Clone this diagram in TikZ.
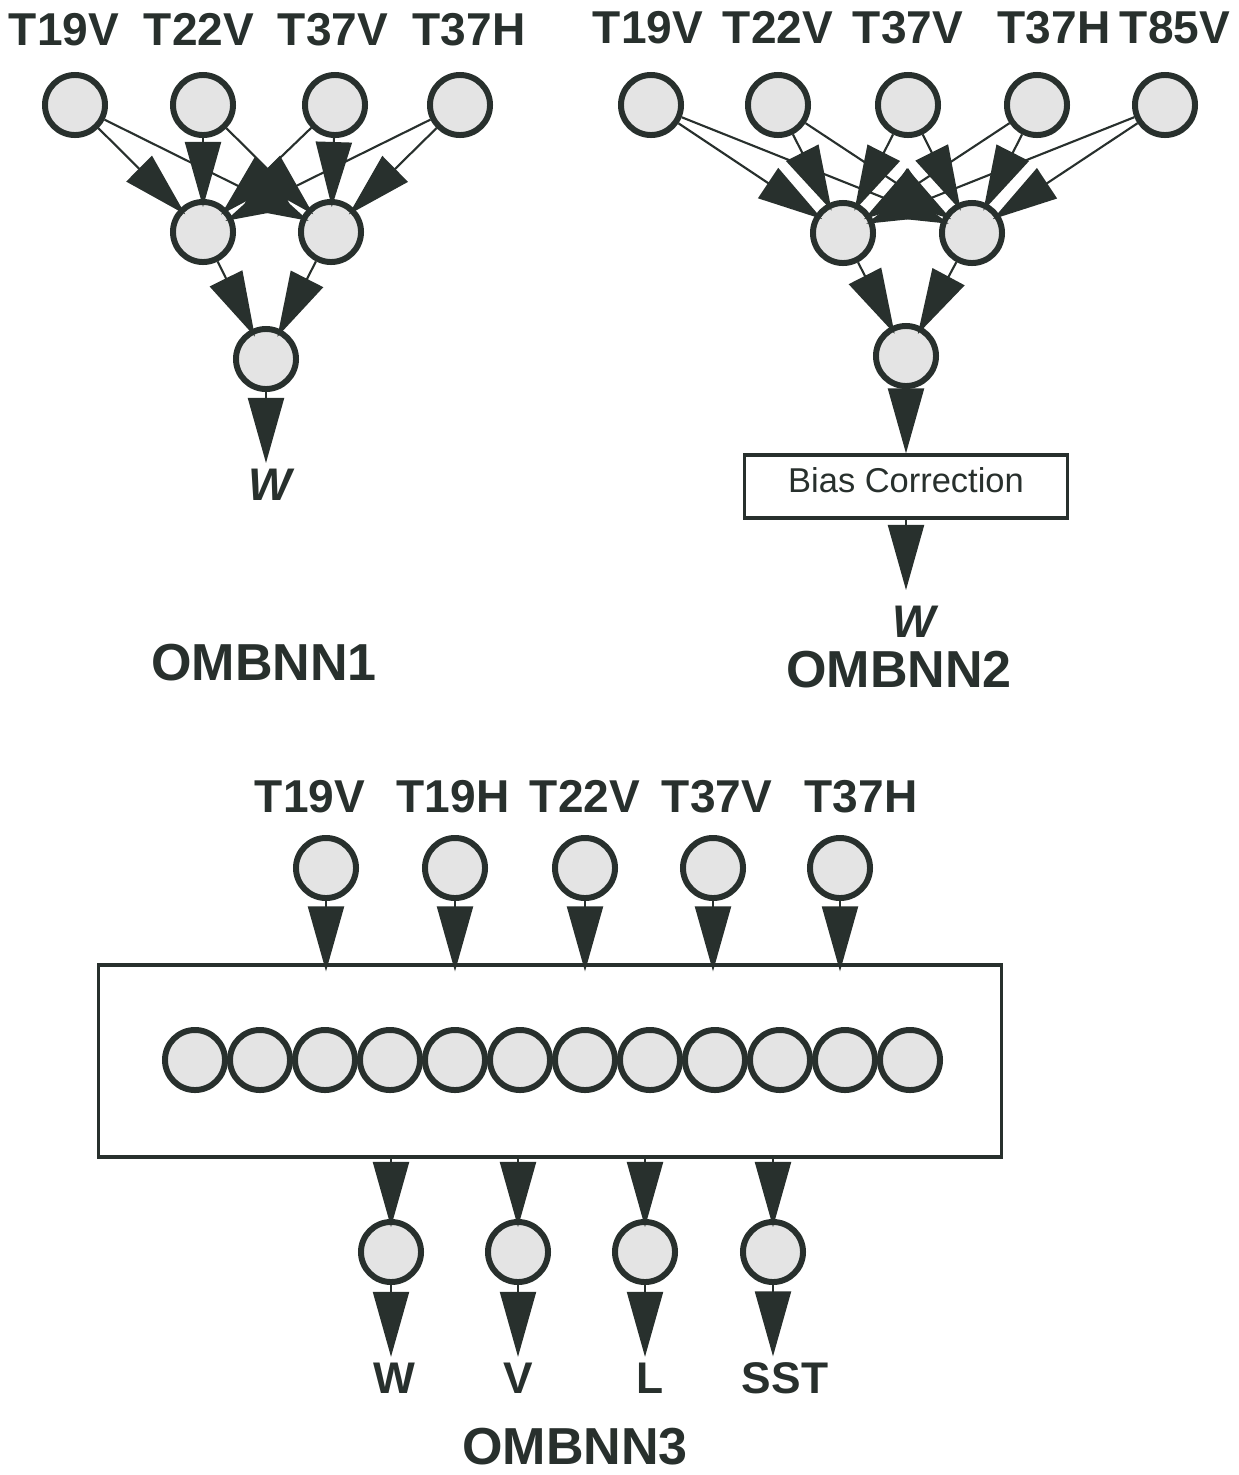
\documentclass[tikz,border=0pt]{standalone}
\usepackage{fontspec}
\setmainfont{Liberation Sans}
\usetikzlibrary{arrows.meta}
\definecolor{ink}{RGB}{40,48,45}
\definecolor{cellfill}{RGB}{228,228,228}

\begin{document}
\begin{tikzpicture}[x=0.01cm,y=-0.01cm,
  neuron/.style={circle, draw=ink, line width=1.7pt, fill=cellfill,
    minimum size=0.60cm, inner sep=0pt},
  link/.style={draw=ink, line width=0.6pt,
    -{Triangle[length=0.65cm,width=0.36cm]}, shorten >=-0.08cm},
  plainlink/.style={link, shorten >=0pt},
  chan/.style={font=\fontsize{13.1}{15}\selectfont\bfseries, text=ink,
    anchor=base, inner sep=0pt},
  outlbl/.style={font=\fontsize{12.6}{15}\selectfont\bfseries, text=ink,
    anchor=base, inner sep=0pt},
  wlbl/.style={font=\fontsize{13}{15}\selectfont\bfseries\itshape, text=ink,
    anchor=base, inner sep=0pt},
  title/.style={font=\fontsize{14.8}{17}\selectfont\bfseries, text=ink,
    anchor=base, inner sep=0pt},
  frame/.style={draw=ink, line width=0.9pt, fill=white, inner sep=0pt}
]
\useasboundingbox (0,0) rectangle (1238,1475);

% ---------------- OMBNN1 ----------------
\node[chan] (n1t1) at (64,45)  {T19V};
\node[chan] (n1t2) at (199,45) {T22V};
\node[chan] (n1t3) at (333,45) {T37V};
\node[chan] (n1t4) at (469,45) {T37H};

\node[neuron] (a1) at (75,105)  {};
\node[neuron] (a2) at (203,105) {};
\node[neuron] (a3) at (335,105) {};
\node[neuron] (a4) at (460,105) {};

\node[neuron] (h1) at (203,232) {};
\node[neuron] (h2) at (331,232) {};
\node[neuron] (o1) at (266,359) {};

\foreach \i in {a1,a2,a3,a4}
  \foreach \j in {h1,h2}
    \draw[link] (\i) -- (\j);
\draw[link] (h1) -- (o1);
\draw[link] (h2) -- (o1);

\node[wlbl] (w1) at (270,500) {W};
\coordinate (w1tip) at (266,463);
\draw[plainlink] (o1) -- (w1tip);

\node[title] (ttl1) at (264,680) {OMBNN1};

% ---------------- OMBNN2 ----------------
\node[chan] (n2t1) at (648,43)  {T19V};
\node[chan] (n2t2) at (778,43)  {T22V};
\node[chan] (n2t3) at (908,43)  {T37V};
\node[chan] (n2t4) at (1054,43) {T37H};
\node[chan] (n2t5) at (1175,43) {T85V};

\node[neuron] (b1) at (651,105)  {};
\node[neuron] (b2) at (778,105)  {};
\node[neuron] (b3) at (908,105)  {};
\node[neuron] (b4) at (1037,105) {};
\node[neuron] (b5) at (1165,105) {};

\node[neuron] (g1) at (843,233) {};
\node[neuron] (g2) at (972,233) {};
\node[neuron] (o2) at (906,356) {};

\foreach \i in {b1,b2,b3,b4,b5}
  \foreach \j in {g1,g2}
    \draw[link] (\i) -- (\j);
\draw[link] (g1) -- (o2);
\draw[link] (g2) -- (o2);

\node[frame, minimum width=3.22cm, minimum height=0.63cm,
      font=\fontsize{9.8}{12}\selectfont, text=ink,
      text height=0.25cm, text depth=0.14cm] (bias) at (906,486.5) {Bias Correction};
\draw[plainlink] (o2) -- (bias);

\node[wlbl] (w2) at (914,637) {W};
\coordinate (w2tip) at (906,590);
\draw[plainlink] (bias.south -| w2tip) -- (w2tip);

\node[title] (ttl2) at (899,687) {OMBNN2};

% ---------------- OMBNN3 ----------------
\node[chan] (n3t1) at (310,812) {T19V};
\node[chan] (n3t2) at (453,812) {T19H};
\node[chan] (n3t3) at (585,812) {T22V};
\node[chan] (n3t4) at (717,812) {T37V};
\node[chan] (n3t5) at (861,812) {T37H};

\node[neuron] (c1) at (326,868) {};
\node[neuron] (c2) at (455,868) {};
\node[neuron] (c3) at (585,868) {};
\node[neuron] (c4) at (713,868) {};
\node[neuron] (c5) at (840,868) {};

\node[frame, minimum width=9.02cm, minimum height=1.92cm] (hbox) at (550,1061) {};

\foreach \k in {0,...,11}
  \node[neuron] (r\k) at ({195+65*\k},1060) {};

\foreach \c in {c1,c2,c3,c4,c5}
  \draw[link] (\c) -- (\c |- hbox.north);

\node[neuron] (q1) at (391,1252) {};
\node[neuron] (q2) at (518,1252) {};
\node[neuron] (q3) at (645,1252) {};
\node[neuron] (q4) at (773,1252) {};

\foreach \q in {q1,q2,q3,q4}
  \draw[link] (hbox.south -| \q) -- (\q);

\node[outlbl] (l1) at (394,1393) {W};
\node[outlbl] (l2) at (518,1393) {V};
\node[outlbl] (l3) at (650,1393) {L};
\node[outlbl] (l4) at (785,1393) {SST};

\foreach \q/\l in {q1/l1,q2/l2,q3/l3,q4/l4}
  \draw[plainlink] (\q) -- ([yshift=0.05cm]\q |- \l.north);

\node[title] (ttl3) at (575,1464) {OMBNN3};
\end{tikzpicture}
\end{document}
